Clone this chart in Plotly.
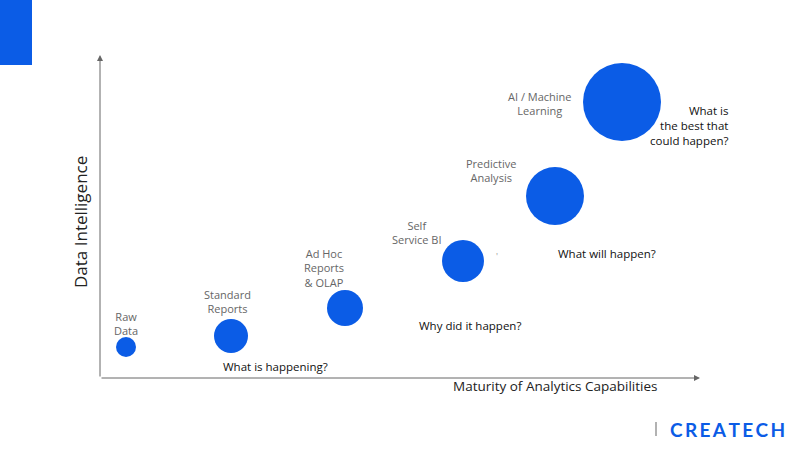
import plotly.graph_objects as go

stages = ["Raw<br>Data", "Standard<br>Reports", "Ad Hoc<br>Reports<br>& OLAP", "Self<br>Service BI", "Predictive<br>Analysis", "AI / Machine<br>Learning"]
maturity = [126, 231, 345, 463, 555, 622]
intelligence = [347, 336, 308, 261, 196, 102]
bubble_size = [20, 34, 36, 42, 58, 78]
label_x = [126, 227, 324, 416, 491, 540]
label_y = [323, 301, 268, 232, 170, 103]
questions = ["What is happening?", "Why did it happen?", "What will happen?", "What is<br>the best that<br>could happen?"]
q_x = [275, 470, 607, 730]
q_y = [366, 325, 253, 125]
q_align = ["center", "center", "center", "right"]

BLUE = "#0b5ce6"
fig = go.Figure()
fig.add_trace(go.Scatter(x=maturity, y=intelligence, mode="markers",
    marker=dict(size=bubble_size, sizemode="diameter", color=BLUE, line=dict(width=0), opacity=1),
    hoverinfo="skip", showlegend=False))
for t, x, y in zip(stages, label_x, label_y):
    fig.add_annotation(x=x, y=y, text=t, showarrow=False, font=dict(size=11, color="#666", family="Open Sans"), align="center")
for t, x, y, a in zip(questions, q_x, q_y, q_align):
    fig.add_annotation(x=x, y=y, text=t, showarrow=False, font=dict(size=11.5, color="#111", family="Open Sans"),
                       align=a, xanchor="right" if a == "right" else "center")
fig.add_annotation(x=700, y=378, ax=100, ay=378, axref="x", ayref="y", showarrow=True, arrowhead=2, arrowsize=1.2, arrowwidth=1, arrowcolor="#666", text="")
fig.add_annotation(x=100, y=55, ax=100, ay=378, axref="x", ayref="y", showarrow=True, arrowhead=2, arrowsize=1.2, arrowwidth=1, arrowcolor="#666", text="")
fig.add_annotation(x=555, y=386, text="Maturity of Analytics Capabilities", showarrow=False, font=dict(size=13.5, color="#222", family="Open Sans"))
fig.add_annotation(x=80, y=222, text="Data Intelligence", textangle=-90, showarrow=False, font=dict(size=17, color="#222", family="Open Sans"))
fig.add_annotation(x=497, y=256, text="'", showarrow=False, font=dict(size=9, color="#999"))
fig.add_shape(type="rect", x0=0, x1=32, y0=0, y1=65, fillcolor=BLUE, line=dict(width=0))
fig.add_shape(type="line", x0=656, x1=656, y0=422, y1=436, line=dict(color="#999", width=1.5))
fig.add_annotation(x=727, y=429, text="<b>C&#8201;R&#8201;E&#8201;A&#8201;T&#8201;E&#8201;C&#8201;H</b>", showarrow=False, font=dict(size=19, color=BLUE, family="Lato"))

fig.update_xaxes(range=[0, 800], visible=False)
fig.update_yaxes(range=[449, 0], visible=False)
fig.update_layout(width=800, height=449, margin=dict(l=0, r=0, t=0, b=0),
                  plot_bgcolor="white", paper_bgcolor="white")
fig.write_html("out.html", config={"displayModeBar": False})
with open("out.html") as f:
    html = f.read()
html = html.replace("<head>", "<head><style>body{margin:0;overflow:hidden}</style>", 1)
with open("out.html", "w") as f:
    f.write(html)
